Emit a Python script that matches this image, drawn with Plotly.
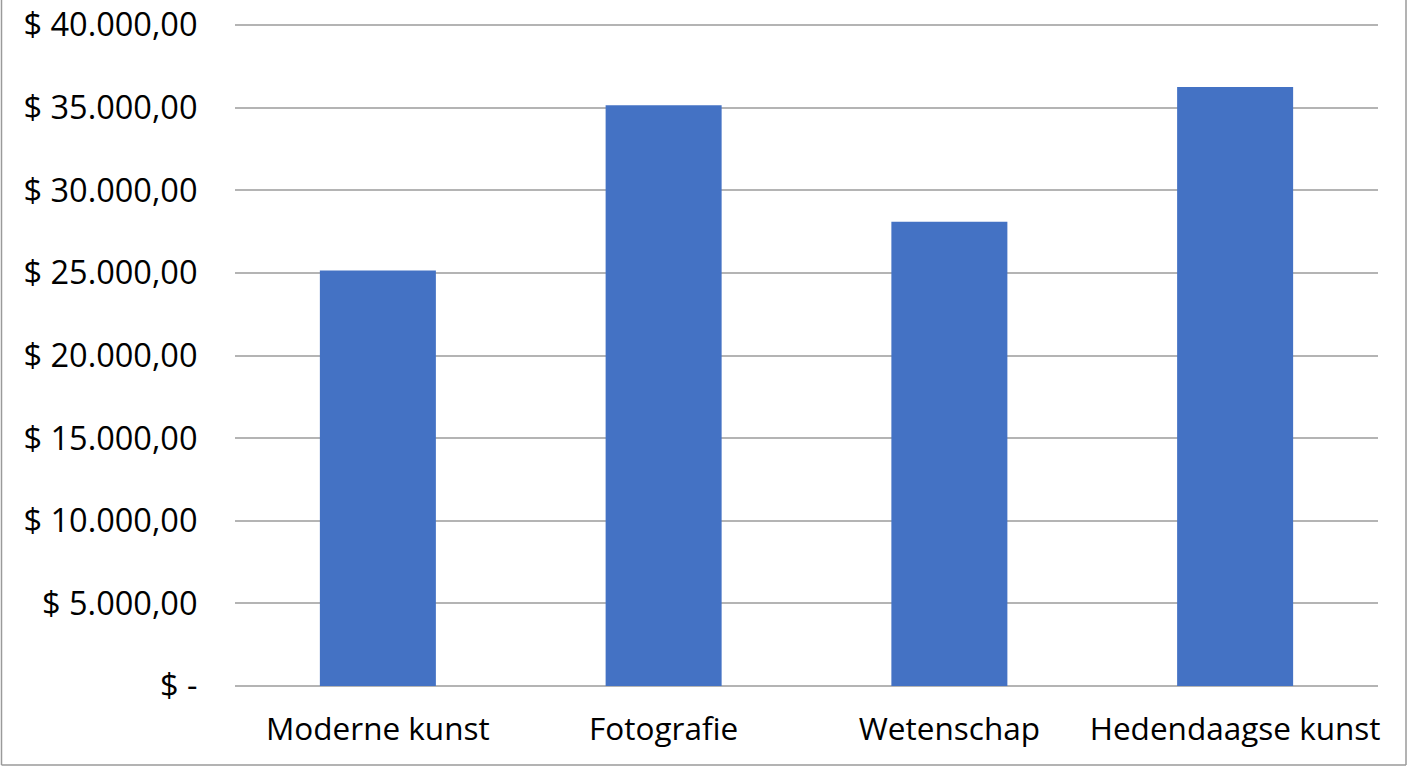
import plotly.graph_objects as go

categories = ["Moderne kunst", "Fotografie", "Wetenschap", "Hedendaagse kunst"]
values = [25150, 35150, 28100, 36250]
tick_vals = [0, 5000, 10000, 15000, 20000, 25000, 30000, 35000, 40000]
tick_text = ["$ -", "$ 5.000,00", "$ 10.000,00", "$ 15.000,00", "$ 20.000,00",
             "$ 25.000,00", "$ 30.000,00", "$ 35.000,00", "$ 40.000,00"]

W, H = 1408, 768
ML, MR, MT, MB = 235, 30, 21, 82
pw, ph = W - ML - MR, H - MT - MB
# a little headroom so the 40.000 grid line is not clipped at the edge
y_top = 40000 * ph / 661

fig = go.Figure()
fig.add_trace(go.Bar(x=categories, y=values, marker_color="#4472C4",
                     marker_line_width=0, hoverinfo="x+y"))

fig.update_layout(
    width=W, height=H,
    margin=dict(l=ML, r=MR, t=MT, b=MB),
    paper_bgcolor="white", plot_bgcolor="white",
    bargap=0.594,
    showlegend=False,
    font=dict(family="Open Sans, Noto Sans, sans-serif", size=32, color="#000000"),
    xaxis=dict(showgrid=False, showline=False, zeroline=False, automargin=False,
               ticks="outside", ticklen=15, tickcolor="rgba(0,0,0,0)",
               tickfont=dict(size=31.5)),
    yaxis=dict(range=[0, y_top], tickvals=tick_vals, ticktext=tick_text,
               showgrid=True, gridcolor="#b4b4b4", gridwidth=1.5,
               zeroline=True, zerolinecolor="#b4b4b4", zerolinewidth=1.5,
               showline=False, automargin=False, ticks="outside", ticklen=30,
               tickcolor="rgba(0,0,0,0)", tickfont=dict(size=32.5)),
)

# thin frame on the left, right and bottom edges, as in the original
frame = dict(type="line", xref="paper", yref="paper",
             line=dict(color="#9a9a9a", width=1.5), layer="below")
x_left, x_right = (1.5 - ML) / pw, (W - 2 - ML) / pw
y_bot, y_up = -(MB - 3) / ph, (H - MB) / ph
fig.add_shape(x0=x_left, x1=x_left, y0=y_bot, y1=y_up, **frame)
fig.add_shape(x0=x_right, x1=x_right, y0=y_bot, y1=y_up, **frame)
fig.add_shape(x0=x_left, x1=x_right, y0=y_bot, y1=y_bot, **frame)

# drop the default body margin so the figure fills the window exactly
fig.write_html("out.html", config={"displayModeBar": False},
               post_script="document.body.style.margin='0';")
